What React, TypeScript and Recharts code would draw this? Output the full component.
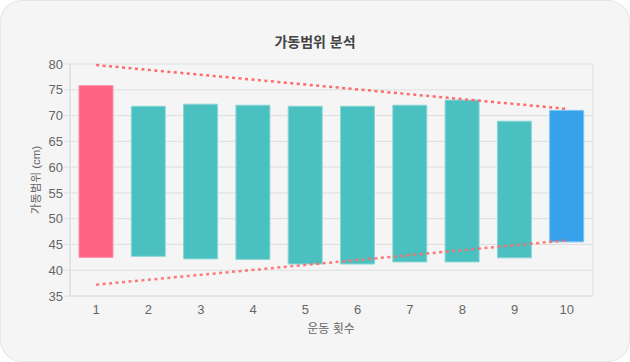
import {
  ComposedChart,
  Bar,
  Line,
  Cell,
  XAxis,
  YAxis,
  CartesianGrid,
} from "recharts";

// 운동 횟수별 최소/최대 가동범위 (cm)
const sessions = ["1", "2", "3", "4", "5", "6", "7", "8", "9", "10"];
const minRange = [42.5, 42.7, 42.2, 42.1, 41.2, 41.2, 41.6, 41.6, 42.4, 45.5];
const maxRange = [75.8, 71.8, 72.2, 72.0, 71.8, 71.8, 72.0, 73.0, 68.9, 71.0];
// 추세선 (처음과 마지막 값만)
const upperTrend = [79.8, null, null, null, null, null, null, null, null, 71.3];
const lowerTrend = [37.2, null, null, null, null, null, null, null, null, 45.8];
const yTicks = [35, 40, 45, 50, 55, 60, 65, 70, 75, 80];

const data = sessions.map((s, i) => ({
  session: s,
  range: [minRange[i], maxRange[i]],
  upper: upperTrend[i],
  lower: lowerTrend[i],
}));

// category boundaries for grid lines / tick marks
const boundaries = [...sessions.map((_, i) => i + 0.5), sessions.length + 0.5];

const gridColor = "#dedede";

function barColor(i: number) {
  if (i === 0) return { fill: "#ff6384", stroke: "#ff8fa6" };
  if (i === sessions.length - 1) return { fill: "#36a2eb", stroke: "#7cc3f2" };
  return { fill: "#4bc0c0", stroke: "#8ad6d6" };
}

export default function App() {
  return (
    <div
      style={{
        position: "relative",
        width: 630,
        height: 362,
        background: "#f5f5f5",
        borderRadius: 22,
        boxShadow: "inset 0 0 0 1px #e6e6e6",
        fontFamily: "'Liberation Sans', 'Noto Sans CJK KR', sans-serif",
        color: "#666",
        overflow: "hidden",
      }}
    >
      <style>{"body{margin:0}"}</style>
      <div
        style={{
          position: "absolute",
          top: 33,
          left: 0,
          width: 630,
          textAlign: "center",
          fontSize: 14,
          fontWeight: "bold",
          lineHeight: "18px",
          color: "#444",
        }}
      >
        가동범위 분석
      </div>
      <div
        style={{
          position: "absolute",
          left: 36,
          top: 180,
          transform: "translate(-50%, -50%) rotate(-90deg)",
          whiteSpace: "nowrap",
          fontSize: 11.5,
          lineHeight: "14px",
        }}
      >
        가동범위 (cm)
      </div>
      <div
        style={{
          position: "absolute",
          left: 331,
          top: 321,
          transform: "translateX(-50%)",
          whiteSpace: "nowrap",
          fontSize: 12,
          lineHeight: "16px",
        }}
      >
        운동 횟수
      </div>
      <div style={{ position: "absolute", left: 0, top: 0 }}>
        <ComposedChart
          width={630}
          height={362}
          data={data}
          margin={{ top: 64, right: 37, left: 0, bottom: 0 }}
        >
          <CartesianGrid stroke={gridColor} />
          {/* boundary axis: gives grid lines and tick marks between categories */}
          <XAxis
            type="number"
            domain={[0.5, sessions.length + 0.5]}
            ticks={boundaries}
            allowDataOverflow
            height={5}
            tickSize={5}
            tick={false}
            tickLine={{ stroke: gridColor }}
            axisLine={{ stroke: gridColor }}
          />
          <XAxis
            xAxisId="cat"
            dataKey="session"
            height={61}
            tickSize={0}
            tickMargin={4}
            axisLine={false}
            tickLine={false}
            tick={{ fill: "#666", fontSize: 13 }}
          />
          <YAxis
            width={70}
            domain={[35, 80]}
            ticks={yTicks}
            interval={0}
            tickSize={6}
            tickMargin={1}
            tickLine={{ stroke: gridColor }}
            axisLine={{ stroke: gridColor }}
            tick={{ fill: "#666", fontSize: 13 }}
          />
          <Bar xAxisId="cat" dataKey="range" barSize={34} isAnimationActive={false}>
            {data.map((_, i) => (
              <Cell key={i} {...barColor(i)} strokeWidth={1} />
            ))}
          </Bar>
          <Line
            xAxisId="cat"
            dataKey="upper"
            stroke="#ff6b6b"
            strokeWidth={2.5}
            strokeDasharray="3 3.5"
            dot={false}
            connectNulls
            isAnimationActive={false}
          />
          <Line
            xAxisId="cat"
            dataKey="lower"
            stroke="#ff6b6b"
            strokeOpacity={0.9}
            strokeWidth={2.5}
            strokeDasharray="3 3.5"
            dot={false}
            connectNulls
            isAnimationActive={false}
          />
        </ComposedChart>
      </div>
    </div>
  );
}
